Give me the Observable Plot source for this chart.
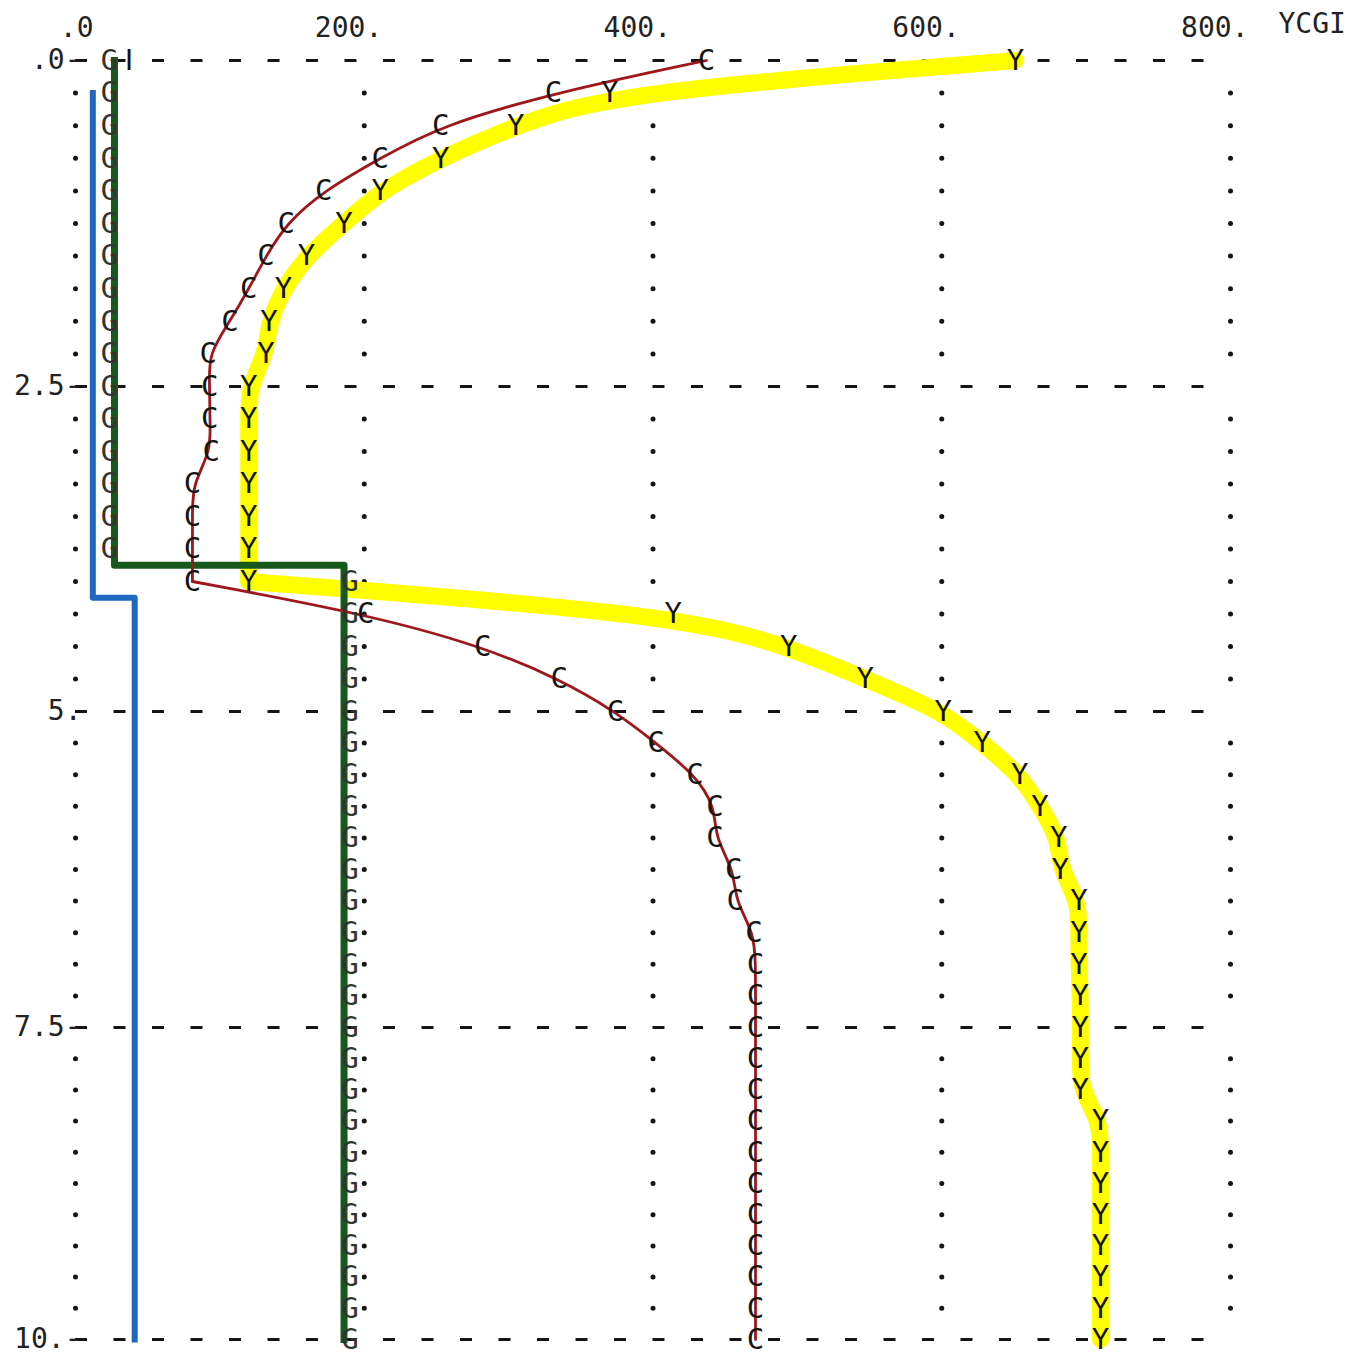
<!DOCTYPE html>
<html>
<head>
<meta charset="utf-8">
<script src="https://cdn.jsdelivr.net/npm/d3@7"></script>
<script src="https://cdn.jsdelivr.net/npm/@observablehq/plot@0.6"></script>
<style>
  html, body { margin: 0; padding: 0; background: #ffffff; }
  #chart svg { display: block; }
</style>
</head>
<body>
<div id="chart"></div>
<script>
// Depth rows (vertical axis, increasing downward)
const depth = [0,0.25,0.5,0.75,1,1.25,1.5,1.75,2,2.25,2.5,2.75,3,3.25,3.5,3.75,4,4.25,4.5,4.75,5,5.25,5.5,5.75,6,6.25,6.5,6.75,7,7.25,7.5,7.75,8,8.25,8.5,8.75,9,9.25,9.5,9.75,10];

// Series Y (yellow)
const seriesY = [651,370,305,253,211,186,160,144,134,132,120,120,120,120,120,120,120,414,494,547,601,628,654,668,681,682,695,695,695,696,696,696,696,710,710,710,710,710,710,710,710];
// Series C (red)
const seriesC = [437,331,253,211,172,146,132,120,107,92,93,93,94,81,81,81,81,201,282,335,374,402,429,443,443,456,457,470,471,471,471,471,471,471,471,471,471,471,471,471,471];
// Series G (green)
const seriesG = [27,27,27,27,27,27,27,27,27,27,27,27,27,27,27,27,186,186,186,186,186,186,186,186,186,186,186,186,186,186,186,186,186,186,186,186,186,186,186,186,186];
// Series I (blue)
const seriesI = [37,12,12,12,12,12,12,12,12,12,12,12,12,12,12,12,12,41,41,41,41,41,41,41,41,41,41,41,41,41,41,41,41,41,41,41,41,41,41,41,41];

const xTicks = [0, 200, 400, 600, 800];
const xTickLabels = [".0", "200.", "400.", "600.", "800."];
const yTicks = [0, 2.5, 5, 7.5, 10];
const yTickLabels = [".0-", "2.5-", "5.", "7.5-", "10.-"];
const seriesLabel = "YCGI";
const breakDepth = 4; // row where the profiles turn sharply

const rows = depth.map((d, i) => ({depth: d, Y: seriesY[i], C: seriesC[i], G: seriesG[i], I: seriesI[i]}));
const upper = rows.filter(d => d.depth <= breakDepth);
const lower = rows.filter(d => d.depth >= breakDepth);
const gridDots = [];
for (const x of xTicks) for (const d of depth) if (!yTicks.includes(d)) gridDots.push({x, depth: d});

// step curve that changes x half-way between two rows (vertical profiles)
function stepMidY(context) {
  let x0, y0, pt = 0;
  return {
    areaStart() {}, areaEnd() {},
    lineStart() { pt = 0; },
    lineEnd() {},
    point(x, y) {
      x = +x; y = +y;
      if (pt === 0) { context.moveTo(x, y); pt = 1; }
      else { const ym = (y0 + y) / 2; context.lineTo(x0, ym); context.lineTo(x, ym); context.lineTo(x, y); }
      x0 = x; y0 = y;
    }
  };
}

const font = "DejaVu Sans Mono";
const fs = 29;
const lfs = 28;
const ink = "#151515";

const chart = Plot.plot({
  width: 1361,
  height: 1371,
  margin: 0,
  style: {background: "#ffffff"},
  x: {type: "linear", domain: [0, 800], range: [75, 1230], axis: null},
  y: {type: "linear", domain: [0, 2.5, 5, 7.5, 10], range: [60, 386, 711, 1027, 1339], axis: null},
  marks: [
    // grid
    Plot.ruleY(yTicks, {y: d => d, x1: 0, x2: 800, stroke: ink, strokeWidth: 3, strokeDasharray: "12,26.5"}),
    Plot.dot(gridDots, {x: "x", y: "depth", r: 2.5, fill: ink, stroke: null}),
    // hand-drawn highlighter (Y)
    Plot.line(upper, {x: "Y", y: "depth", stroke: "#ffff00", strokeWidth: 17, curve: "basis", strokeLinecap: "round", strokeLinejoin: "round"}),
    Plot.line(lower, {x: "Y", y: "depth", stroke: "#ffff00", strokeWidth: 17, curve: "basis", strokeLinecap: "round", strokeLinejoin: "round"}),
    // G line
    Plot.line(rows, {x: "G", y: "depth", stroke: "#17591c", strokeWidth: 7, curve: stepMidY, strokeLinecap: "square"}),
    // C line
    Plot.line(upper, {x: "C", y: "depth", stroke: "#9e171b", strokeWidth: 2.8, curve: "basis", strokeLinecap: "round"}),
    Plot.line(lower, {x: "C", y: "depth", stroke: "#9e171b", strokeWidth: 2.8, curve: "basis", strokeLinecap: "round"}),
    // printed characters
    Plot.text(rows, {x: "Y", y: "depth", text: () => "Y", fontFamily: font, fontSize: fs, fill: ink}),
    Plot.text(rows, {x: "C", y: "depth", text: () => "C", fontFamily: font, fontSize: fs, fill: ink}),
    Plot.text(rows.filter(d => d.depth < breakDepth), {x: "G", y: "depth", text: () => "G", fontFamily: font, fontSize: fs, fill: "#333", dx: -5}),
    Plot.text(rows.filter(d => d.depth >= breakDepth), {x: "G", y: "depth", text: () => "G", fontFamily: font, fontSize: fs, fill: "#333", dx: 6}),
    Plot.text(rows.filter(d => d.depth === 0), {x: "I", y: "depth", text: () => "I", fontFamily: "DejaVu Sans", fontSize: fs, fill: ink}),
    // I line
    Plot.line(rows.filter(d => d.depth > 0), {x: "I", y: "depth", stroke: "#1f68c0", strokeWidth: 6, curve: stepMidY, strokeLinecap: "square"}),
    // axis labels
    Plot.text(xTicks, {x: d => d, y: 0, text: (d, i) => xTickLabels[i], textAnchor: "end", dx: 18, dy: -32, fontFamily: font, fontSize: lfs, fill: "#222", letterSpacing: 2}),
    Plot.text([seriesLabel], {x: 800, y: 0, text: d => d, textAnchor: "start", dx: 48, dy: -36, fontFamily: font, fontSize: lfs, fill: "#222", letterSpacing: 2}),
    Plot.text(yTicks, {x: 0, y: d => d, text: (d, i) => yTickLabels[i], textAnchor: "end", dx: 6, fontFamily: font, fontSize: lfs, fill: "#222", letterSpacing: 1})
  ]
});
document.getElementById("chart").appendChild(chart);
</script>
</body>
</html>
